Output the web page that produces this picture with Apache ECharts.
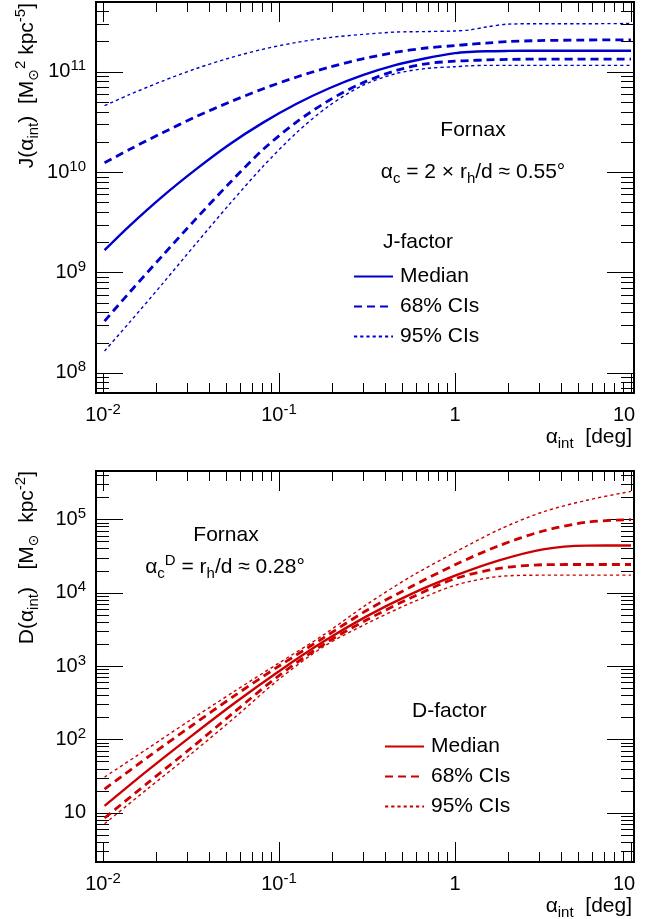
<!DOCTYPE html>
<html><head><meta charset="utf-8">
<script src="https://cdn.jsdelivr.net/npm/echarts@6/dist/echarts.min.js"></script>
<style>html,body{margin:0;padding:0;background:#fff}#c{width:671px;height:919px}</style>
</head><body><div id="c"></div>
<script>
// ---------------- data ----------------
const jAlpha  = [0.0102, 0.0141, 0.0218, 0.0337, 0.0522, 0.0807, 0.125, 0.193, 0.299, 0.462, 0.684, 1.0, 1.2, 1.5, 2.0, 3.0, 5.0, 10.0];
const jMedian = [1.667e9, 2.897e9, 5.728e9, 1.064e10, 1.884e10, 3.090e10, 4.764e10, 6.839e10, 9.226e10, 1.169e11, 1.361e11, 1.531e11, 1.574e11, 1.600e11, 1.611e11, 1.618e11, 1.618e11, 1.618e11];
const j68Up   = [1.236e10, 1.675e10, 2.466e10, 3.556e10, 4.966e10, 6.730e10, 8.810e10, 1.109e11, 1.343e11, 1.563e11, 1.722e11, 1.820e11, 1.871e11, 1.928e11, 1.995e11, 2.042e11, 2.065e11, 2.080e11];
const j68Lo   = [3.273e8, 6.281e8, 1.472e9, 3.412e9, 7.727e9, 1.663e10, 3.126e10, 5.200e10, 7.762e10, 1.026e11, 1.199e11, 1.274e11, 1.288e11, 1.312e11, 1.324e11, 1.337e11, 1.337e11, 1.337e11];
const j95Up   = [4.592e10, 5.902e10, 8.072e10, 1.072e11, 1.368e11, 1.671e11, 1.954e11, 2.188e11, 2.355e11, 2.483e11, 2.512e11, 2.547e11, 2.600e11, 2.786e11, 2.979e11, 3.006e11, 3.006e11, 3.020e11];
const j95Lo   = [1.648e8, 3.155e8, 7.727e8, 1.928e9, 4.764e9, 1.127e10, 2.443e10, 4.592e10, 7.311e10, 9.572e10, 1.076e11, 1.122e11, 1.143e11, 1.156e11, 1.156e11, 1.156e11, 1.156e11, 1.156e11];

const dAlpha  = [0.0102, 0.0178, 0.0316, 0.0562, 0.1, 0.178, 0.316, 0.562, 1.0, 1.78, 3.16, 5.62, 10.0];
const dMedian = [12.4, 37.2, 110, 316, 851, 2140, 4790, 9550, 1.70e4, 2.75e4, 3.89e4, 4.37e4, 4.39e4];
const d68Up   = [21.0, 56.2, 151, 398, 1000, 2400, 5750, 1.20e4, 2.40e4, 4.37e4, 6.92e4, 9.12e4, 9.91e4];
const d68Lo   = [8.47, 25.1, 75.9, 240, 741, 1950, 4270, 8510, 1.55e4, 2.14e4, 2.40e4, 2.42e4, 2.42e4];
const d95Up   = [30.6, 74.1, 186, 457, 1100, 2630, 6920, 1.66e4, 3.55e4, 7.24e4, 1.26e5, 1.82e5, 2.40e5];
const d95Lo   = [7.08, 20.9, 63.1, 200, 661, 1820, 3800, 7240, 1.26e4, 1.66e4, 1.73e4, 1.73e4, 1.73e4];

// axis ranges and tick labels
const xRange = [0.00912, 10.4];
const jRange = [6.28e7, 4.95e11];
const dRange = [2.13, 4.55e5];
const xMajorTicks = [0.01, 0.1, 1, 10];
const xTickLabels = ['{b|10}{s|-2}', '{b|10}{s|-1}', '{b|1}', '{e|10}'];
const jMajorTicks = [1e8, 1e9, 1e10, 1e11];
const jTickLabels = ['{b|10}{s|8}', '{b|10}{s|9}', '{b|10}{s|10}', '{b|10}{s|11}'];
const dMajorTicks = [10, 100, 1e3, 1e4, 1e5];
const dTickLabels = ['{b|10}', '{b|10}{s|2}', '{b|10}{s|3}', '{b|10}{s|4}', '{b|10}{s|5}'];

// ---------------- styling ----------------
const FONT = '"Liberation Sans", Arial, Helvetica, sans-serif';
const BLUE = '#0000cc', RED = '#cc0000';
const G = [{left: 96, top: 2, width: 538, height: 391}, {left: 96, top: 471, width: 538, height: 391}];

const tickRich = {
  b: {fontSize: 20, fontFamily: FONT, color: '#000', lineHeight: 26},
  e: {fontSize: 20, fontFamily: FONT, color: '#000', lineHeight: 26, padding: [0, 14, 0, 0]},
  s: {fontSize: 15, fontFamily: FONT, color: '#000', lineHeight: 15, verticalAlign: 'top'}
};
const txtRich = {
  n: {fontSize: 21, fontFamily: FONT, color: '#000', lineHeight: 28},
  sb: {fontSize: 15, fontFamily: FONT, color: '#000', lineHeight: 15, verticalAlign: 'bottom'},
  sp: {fontSize: 15, fontFamily: FONT, color: '#000', lineHeight: 15, verticalAlign: 'top'},
  so: {fontSize: 14, fontFamily: '"DejaVu Sans", sans-serif', color: '#000', lineHeight: 15, verticalAlign: 'bottom'}
};

function fmt(majors, labels) {
  return v => {
    const i = majors.findIndex(t => Math.abs(Math.log10(v / t)) < 1e-6);
    return i >= 0 ? labels[i] : '';
  };
}
function allTicks(range) {
  const out = [];
  const e0 = Math.floor(Math.log10(range[0])), e1 = Math.ceil(Math.log10(range[1]));
  for (let e = e0; e <= e1; e++) for (let m = 1; m <= 9; m++) {
    const v = m * Math.pow(10, e);
    if (v > range[0] * 1.0001 && v < range[1] * 0.9999) out.push([v, m === 1 ? 1 : 0]);
  }
  return out;
}
function lineSeries(name, xs, ys, color, kind, gi) {
  const ls = kind === 'med' ? {width: 2.4, type: 'solid'}
           : kind === '68' ? {width: 2.8, type: [8, 5]}
           : {width: 1.4, type: [3.2, 3]};
  return {
    type: 'line', name, xAxisIndex: gi, yAxisIndex: gi,
    data: xs.map((x, i) => [x, ys[i]]),
    symbol: 'none', smooth: 0.3,
    lineStyle: Object.assign({color}, ls), itemStyle: {color}, z: 3, silent: true
  };
}
function xTickSeries(gi, refY) {
  return {
    type: 'custom', xAxisIndex: gi, yAxisIndex: gi, silent: true, z: 1,
    data: allTicks(xRange).map(t => [t[0], refY, t[1]]),
    renderItem: (params, api) => {
      const cs = params.coordSys;
      const p = api.coord([api.value(0), refY]);
      const L = api.value(2) ? 20 : 10;
      const x = Math.round(p[0]) + 0.5;
      const st = {stroke: '#000', lineWidth: 1};
      return {type: 'group', children: [
        {type: 'line', shape: {x1: x, y1: cs.y + cs.height, x2: x, y2: cs.y + cs.height - L}, style: st},
        {type: 'line', shape: {x1: x, y1: cs.y, x2: x, y2: cs.y + L}, style: st}
      ]};
    }
  };
}
function yTickSeries(gi, range, refX) {
  return {
    type: 'custom', xAxisIndex: gi, yAxisIndex: gi, silent: true, z: 1,
    data: allTicks(range).map(t => [refX, t[0], t[1]]),
    renderItem: (params, api) => {
      const cs = params.coordSys;
      const p = api.coord([refX, api.value(1)]);
      const L = api.value(2) ? 27 : 13;
      const y = Math.round(p[1]) + 0.5;
      const st = {stroke: '#000', lineWidth: 1};
      return {type: 'group', children: [
        {type: 'line', shape: {x1: cs.x, y1: y, x2: cs.x + L, y2: y}, style: st},
        {type: 'line', shape: {x1: cs.x + cs.width, y1: y, x2: cs.x + cs.width - L, y2: y}, style: st}
      ]};
    }
  };
}
function xAxis(gi) {
  return {type: 'log', logBase: 10, gridIndex: gi, min: xRange[0], max: xRange[1],
    axisLine: {show: false}, axisTick: {show: false}, splitLine: {show: false}, minorTick: {show: false},
    axisLabel: {formatter: fmt(xMajorTicks, xTickLabels), rich: tickRich, margin: 9, hideOverlap: false}};
}
function yAxis(gi, range, majors, labels) {
  return {type: 'log', logBase: 10, gridIndex: gi, min: range[0], max: range[1],
    axisLine: {show: false}, axisTick: {show: false}, splitLine: {show: false}, minorTick: {show: false},
    axisLabel: {formatter: fmt(majors, labels), rich: tickRich, margin: 10, hideOverlap: false}};
}
function txt(x, y, text, align, extra) {
  return Object.assign({type: 'text', x, y, silent: true,
    style: {text, align: align || 'center', verticalAlign: 'middle', rich: txtRich, fill: '#000',
      fontSize: 21, fontFamily: FONT}}, extra || {});
}
function legend(prefix, left, top) {
  return {
    data: [prefix + 'Median', prefix + '68% CIs', prefix + '95% CIs'],
    orient: 'vertical', left, top, itemWidth: 39, itemHeight: 14, itemGap: 9,
    selectedMode: false, formatter: n => n.slice(prefix.length),
    itemStyle: {opacity: 0, borderWidth: 0},
    textStyle: {fontSize: 21, fontFamily: FONT, color: '#000', lineHeight: 21, padding: [0, 0, 0, 2]}
  };
}

const option = {
  animation: false,
  backgroundColor: '#fff',
  grid: G.map(g => Object.assign({show: true, borderColor: '#000', borderWidth: 2, backgroundColor: 'transparent', containLabel: false}, g)),
  xAxis: [xAxis(0), xAxis(1)],
  yAxis: [yAxis(0, jRange, jMajorTicks, jTickLabels), yAxis(1, dRange, dMajorTicks, dTickLabels)],
  legend: [legend('J ', 348, 261), legend('D ', 379, 731)],
  series: [
    xTickSeries(0, 1e9), yTickSeries(0, jRange, 1),
    xTickSeries(1, 100), yTickSeries(1, dRange, 1),
    lineSeries('J Median', jAlpha, jMedian, BLUE, 'med', 0),
    lineSeries('J 68% CIs', jAlpha, j68Up, BLUE, '68', 0),
    lineSeries('J 68% CIs', jAlpha, j68Lo, BLUE, '68', 0),
    lineSeries('J 95% CIs', jAlpha, j95Up, BLUE, '95', 0),
    lineSeries('J 95% CIs', jAlpha, j95Lo, BLUE, '95', 0),
    lineSeries('D Median', dAlpha, dMedian, RED, 'med', 1),
    lineSeries('D 68% CIs', dAlpha, d68Up, RED, '68', 1),
    lineSeries('D 68% CIs', dAlpha, d68Lo, RED, '68', 1),
    lineSeries('D 95% CIs', dAlpha, d95Up, RED, '95', 1),
    lineSeries('D 95% CIs', dAlpha, d95Lo, RED, '95', 1)
  ],
  graphic: [
    // axis titles
    txt(632, 437, '{n|α}{sb|int}{n|  [deg]}', 'right'),
    txt(632, 906, '{n|α}{sb|int}{n|  [deg]}', 'right'),
    txt(27, 3, '{n|J(α}{sb|int}{n|)  [M}{so|⊙}{sp|2}{n| kpc}{sp|-5}{n|]}', 'right', {rotation: Math.PI / 2}),
    txt(27, 471, '{n|D(α}{sb|int}{n|)   [M}{so|⊙}{n|  kpc}{sp|-2}{n|]}', 'right', {rotation: Math.PI / 2}),
    // top panel annotations
    txt(473, 130, '{n|Fornax}', 'center'),
    txt(473, 172, '{n|α}{sb|c}{n| = 2 × r}{sb|h}{n|/d ≈ 0.55°}', 'center'),
    txt(383, 242, '{n|J-factor}', 'left'),
    // bottom panel annotations
    txt(226, 535, '{n|Fornax}', 'center'),
    txt(225, 567, '{n|α}{sb|c}{sp|D}{n| = r}{sb|h}{n|/d ≈ 0.28°}', 'center'),
    txt(412, 711, '{n|D-factor}', 'left')
  ]
};
const chart = echarts.init(document.getElementById('c'), null, {renderer: 'canvas'});
chart.setOption(option);
</script>
</body></html>
